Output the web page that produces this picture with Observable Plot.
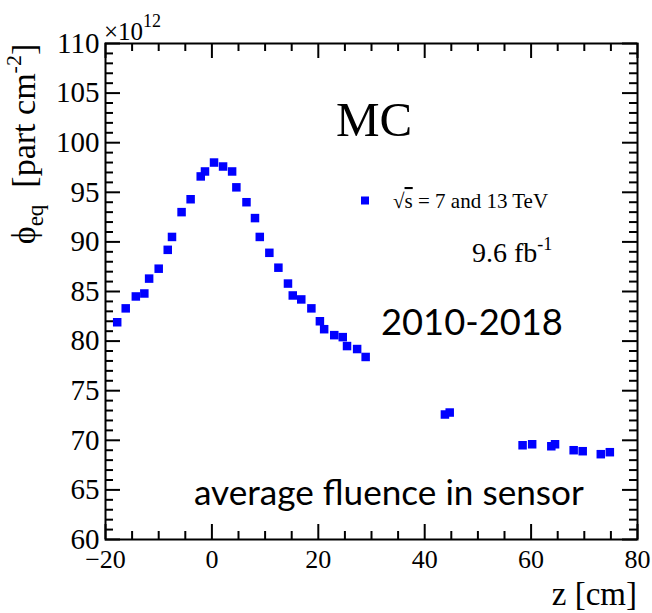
<!DOCTYPE html>
<html>
<head>
<meta charset="utf-8">
<script src="https://cdn.jsdelivr.net/npm/d3@7"></script>
<script src="https://cdn.jsdelivr.net/npm/@observablehq/plot@0.6"></script>
<style>
  body { margin: 0; background: #fff; }
  #chart svg { display: block; }
</style>
</head>
<body>
<div id="chart"></div>
<script>
// Average equivalent fluence along z (units of 1e12 part/cm^2)
const zCm = [-17.8, -16.2, -14.3, -12.7, -11.8, -10.0, -8.3, -7.5, -5.7, -4.0,
             -2.1, -1.3, 0.4, 2.1, 3.8, 4.6, 6.5, 8.1, 9.0, 10.8,
             12.5, 14.3, 15.2, 16.8, 18.7, 20.3, 21.1, 23.0, 24.6, 25.4,
             27.3, 28.9, 43.8, 44.7, 58.4, 60.2, 63.8, 64.5, 68.0, 69.7,
             73.1, 74.8];
const phiEq = [81.9, 83.3, 84.5, 84.8, 86.3, 87.3, 89.2, 90.5, 93.0, 94.3,
               96.6, 97.1, 98.0, 97.6, 97.1, 95.5, 94.0, 92.4, 90.5, 88.9,
               87.4, 85.8, 84.6, 84.2, 83.3, 82.0, 81.2, 80.6, 80.4, 79.5,
               79.2, 78.4, 72.6, 72.8, 69.5, 69.6, 69.4, 69.6, 69.0, 68.9,
               68.6, 68.8];

const xMajor = [-20, 0, 20, 40, 60, 80];
const xMinor = [-15, -10, -5, 5, 10, 15, 25, 30, 35, 45, 50, 55, 65, 70, 75];
const yMajor = [60, 65, 70, 75, 80, 85, 90, 95, 100, 105, 110];
const yMinor = d3.range(61, 110).filter(v => v % 5 !== 0);

const rows = zCm.map((z, i) => ({z, phi: phiEq[i]}));

const W = 652, H = 613;
const mL = 105, mR = 15, mT = 43, mB = 74;
const innerW = W - mL - mR, innerH = H - mT - mB;
const majorLen = 15, minorLen = 8;
const serif = "'Liberation Serif', 'Times New Roman', serif";
const sans = "Lato, 'Open Sans', sans-serif";
const blue = "#0000ff";
const tickStyle = {stroke: "#000", strokeWidth: 2};

const chart = Plot.plot({
  width: W, height: H,
  marginLeft: mL, marginRight: mR, marginTop: mT, marginBottom: mB,
  style: {fontFamily: serif, fontSize: "26px", background: "#fff", color: "#000", overflow: "visible"},
  x: {domain: [-20, 80]},
  y: {domain: [60, 110]},
  marks: [
    // inward ticks on all four sides
    Plot.tickX(xMajor, {x: d => d, insetTop: innerH - majorLen, ...tickStyle}),
    Plot.tickX(xMinor, {x: d => d, insetTop: innerH - minorLen, ...tickStyle}),
    Plot.tickX(xMajor, {x: d => d, insetBottom: innerH - majorLen, ...tickStyle}),
    Plot.tickX(xMinor, {x: d => d, insetBottom: innerH - minorLen, ...tickStyle}),
    Plot.tickY(yMajor, {y: d => d, insetRight: innerW - majorLen, ...tickStyle}),
    Plot.tickY(yMinor, {y: d => d, insetRight: innerW - minorLen, ...tickStyle}),
    Plot.tickY(yMajor, {y: d => d, insetLeft: innerW - majorLen, ...tickStyle}),
    Plot.tickY(yMinor, {y: d => d, insetLeft: innerW - minorLen, ...tickStyle}),
    Plot.frame({stroke: "#000", strokeWidth: 2}),
    Plot.axisX({ticks: xMajor, tickSize: 0, tickPadding: 10, fontSize: 26, label: null}),
    Plot.axisY({ticks: yMajor, tickSize: 0, tickPadding: 6, fontSize: 29, label: null}),
    Plot.dot(rows, {x: "z", y: "phi", symbol: "square", r: 4.8, fill: blue, stroke: "none"})
  ]
});

document.getElementById("chart").appendChild(chart);

const svg = d3.select(chart);
const g = svg.append("g").attr("fill", "#000").attr("text-anchor", "start");

// exponent of the vertical axis
const expo = g.append("text").attr("x", 104).attr("y", 40)
  .style("font-family", serif).style("font-size", "25px");
expo.append("tspan").text("×10");
expo.append("tspan").attr("dy", -13).style("font-size", "18px").text("12");

// vertical axis title
const ytitle = g.append("text")
  .attr("transform", "translate(35,144) rotate(-90)")
  .attr("text-anchor", "middle")
  .style("font-family", serif).style("font-size", "34px");
ytitle.append("tspan").text("ϕ");
ytitle.append("tspan").attr("dy", 8).style("font-size", "23px").text("eq");
ytitle.append("tspan").attr("dy", -8).text("  [part cm");
ytitle.append("tspan").attr("dy", -14).style("font-size", "22px").text("-2");
ytitle.append("tspan").attr("dy", 14).text("]");

// horizontal axis title
g.append("text").attr("x", 637).attr("y", 605).attr("text-anchor", "end")
  .style("font-family", serif).style("font-size", "33px").text("z [cm]");

// labels inside the frame
g.append("text").attr("x", 336).attr("y", 136)
  .style("font-family", serif).style("font-size", "49px").text("MC");

svg.append("rect").attr("x", 361).attr("y", 196.5).attr("width", 8).attr("height", 8).attr("fill", blue);
const leg = g.append("text").attr("x", 393).attr("y", 208)
  .style("font-family", serif).style("font-size", "21px");
leg.append("tspan").text("√");
leg.append("tspan").style("text-decoration", "overline").text("s");
leg.append("tspan").text(" = 7 and 13 TeV");

const lumi = g.append("text").attr("x", 472).attr("y", 262)
  .style("font-family", serif).style("font-size", "28px");
lumi.append("tspan").text("9.6 fb");
lumi.append("tspan").attr("dy", -12).style("font-size", "18px").text("-1");

// sans-serif annotations, sized to their spans
function fitText(txt, x, y, targetWidth, baseSize) {
  const t = g.append("text").attr("x", x).attr("y", y)
    .style("font-family", sans).style("font-size", baseSize + "px").text(txt);
  const w = t.node().getComputedTextLength();
  if (w > 0) t.style("font-size", (baseSize * targetWidth / w) + "px");
  return t;
}
fitText("2010-2018", 381, 335, 182, 36);
fitText("average fluence in sensor", 194, 505, 390, 34);
</script>
</body>
</html>
